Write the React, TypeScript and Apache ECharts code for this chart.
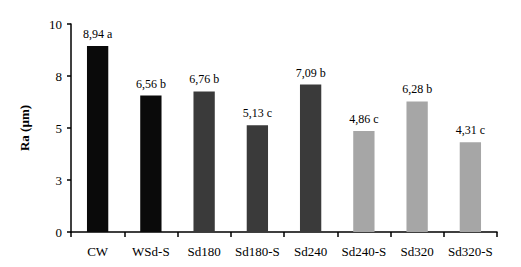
import React, { useEffect, useRef } from "react";
import * as echarts from "echarts";

const categories = ["CW", "WSd-S", "Sd180", "Sd180-S", "Sd240", "Sd240-S", "Sd320", "Sd320-S"];
const values = [8.94, 6.56, 6.76, 5.13, 7.09, 4.86, 6.28, 4.31];
const letters = ["a", "b", "b", "c", "b", "c", "b", "c"];
const barColors = ["#0a0a0a", "#0a0a0a", "#3a3a3a", "#3a3a3a", "#3a3a3a", "#a6a6a6", "#a6a6a6", "#a6a6a6"];

const FONT = "Liberation Serif";

export default function App() {
  const ref = useRef<HTMLDivElement>(null);
  useEffect(() => {
    if (!ref.current) return;
    const chart = echarts.init(ref.current, undefined, { renderer: "svg" });
    chart.setOption({
      animation: false,
      backgroundColor: "#ffffff",
      grid: { left: 71, right: 24, top: 24, bottom: 35 },
      xAxis: {
        type: "category",
        data: categories,
        axisLine: { lineStyle: { color: "#000", width: 1.5 } },
        axisTick: { show: true, length: 5, inside: false, interval: 0, lineStyle: { color: "#000", width: 1.5 } },
        axisLabel: { color: "#000", fontFamily: FONT, fontSize: 13, margin: 13, interval: 0 },
      },
      yAxis: {
        type: "value",
        min: 0,
        max: 10,
        interval: 2.5,
        name: "Ra (µm)",
        nameLocation: "middle",
        nameGap: 40,
        nameTextStyle: { color: "#000", fontFamily: FONT, fontSize: 13, fontWeight: "bold" },
        splitLine: { show: false },
        axisLine: { show: true, lineStyle: { color: "#000", width: 1.5 } },
        axisTick: { show: true, length: 4, lineStyle: { color: "#000", width: 1.5 } },
        axisLabel: {
          color: "#000",
          fontFamily: FONT,
          fontSize: 13,
          margin: 9,
          formatter: (v: number) => String(Math.round(v)),
        },
      },
      series: [
        {
          type: "bar",
          barCategoryGap: "60%",
          data: values.map((v, i) => ({ value: v, itemStyle: { color: barColors[i] } })),
          label: {
            show: true,
            position: "top",
            distance: 6,
            color: "#000",
            fontFamily: FONT,
            fontSize: 12,
            formatter: (p: any) => `${values[p.dataIndex].toFixed(2).replace(".", ",")} ${letters[p.dataIndex]}`,
          },
        },
      ],
    });
    return () => chart.dispose();
  }, []);
  return <div ref={ref} style={{ width: 521, height: 267, position: "absolute", left: 0, top: 0 }} />;
}
